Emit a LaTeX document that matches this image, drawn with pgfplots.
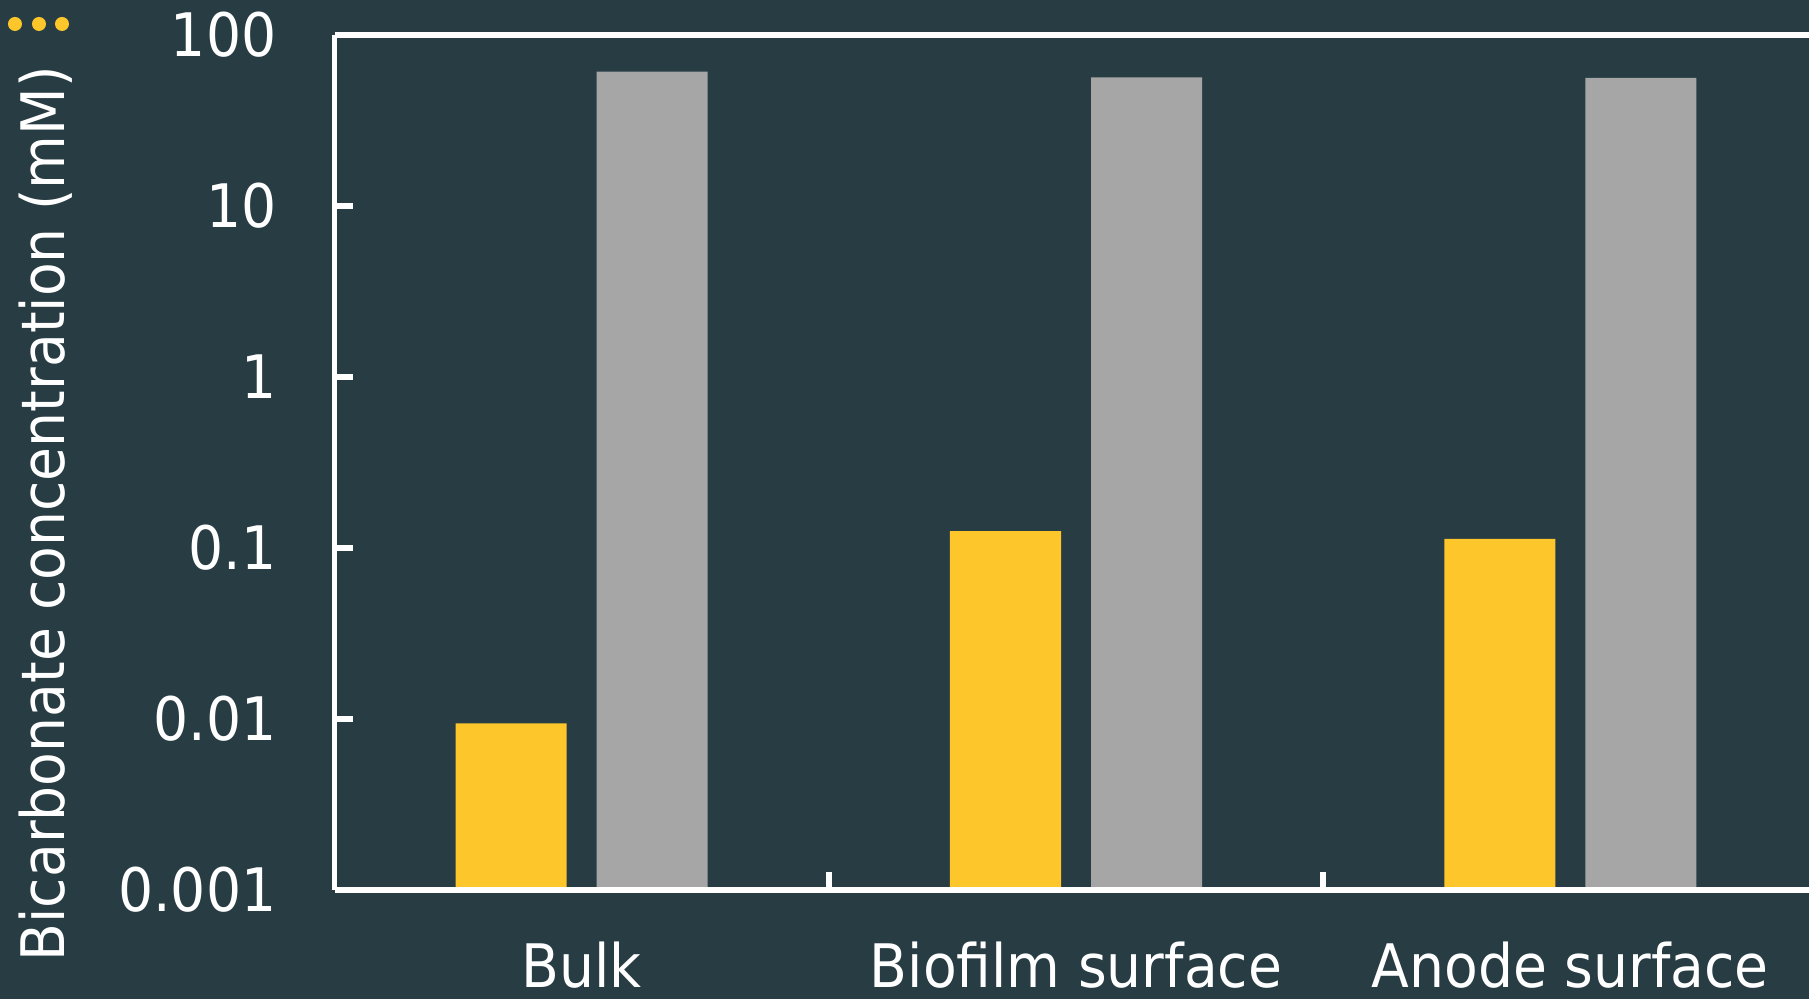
\documentclass[border=0pt]{standalone}
\usepackage{pgfplots}
\pgfplotsset{compat=1.18}
\usepackage{fontspec}
\setmainfont[FakeStretch=0.92]{DejaVu Sans}
\definecolor{bg}{HTML}{283C44}
\definecolor{barY}{HTML}{FDC62A}
\definecolor{barG}{HTML}{A6A6A6}
\newcommand{\lblfont}{\fontsize{17.07pt}{20pt}\selectfont}
\begin{document}
\begin{tikzpicture}
\fill[bg] (-33.46mm,-10.9mm) rectangle (147.44mm,89.0mm);
\foreach \x in {-34.26,-31.96,-29.56,-27.26} \fill[barY] (\x mm,86.6mm) circle (0.7mm);
\begin{axis}[at={(0,0)}, anchor=south west, scale only axis,
  width=147.44mm, height=85.5mm,
  ymode=log, ymin=0.001, ymax=100, log origin y=infty,
  xmin=-0.5, xmax=2.483,
  axis x line=box, axis y line=left,
  axis line style={-, white, line width=0.55mm},
  axis on top,
  ybar=3mm, bar width=11.1mm,
  xtick={0,1,2}, xticklabels={Bulk,Biofilm surface,Anode surface},
  ytick={0.001,0.01,0.1,1,10,100}, yticklabels={0.001,0.01,0.1,1,10,100},
  minor xtick={0.5,1.5}, minor ytick={0.01,0.1,1,10},
  tick align=inside, xtick pos=left, ytick pos=left,
  major tick length=0pt, minor tick length=1.8mm,
  minor tick style={white, line width=0.55mm},
  tick label style={white, font=\lblfont, inner sep=0pt},
  xticklabel style={anchor=base, yshift=-9.7mm},
  yticklabel style={anchor=east, xshift=-5.76mm},
  every axis y label/.style={at={(axis description cs:-0.1829,0.44)}, anchor=base, rotate=90, white, font=\lblfont},
  ylabel={Bicarbonate concentration (mM)},
]
\addplot[fill=barY, draw=none] coordinates {(0,0.00944) (1,0.1256) (2,0.113)};
\addplot[fill=barG, draw=none] coordinates {(0,61.0) (1,56.6) (2,56.1)};
\end{axis}
\pgfresetboundingbox
\useasboundingbox (-33.46mm,-10.9mm) rectangle (147.44mm,89.0mm);
\end{tikzpicture}
\end{document}
